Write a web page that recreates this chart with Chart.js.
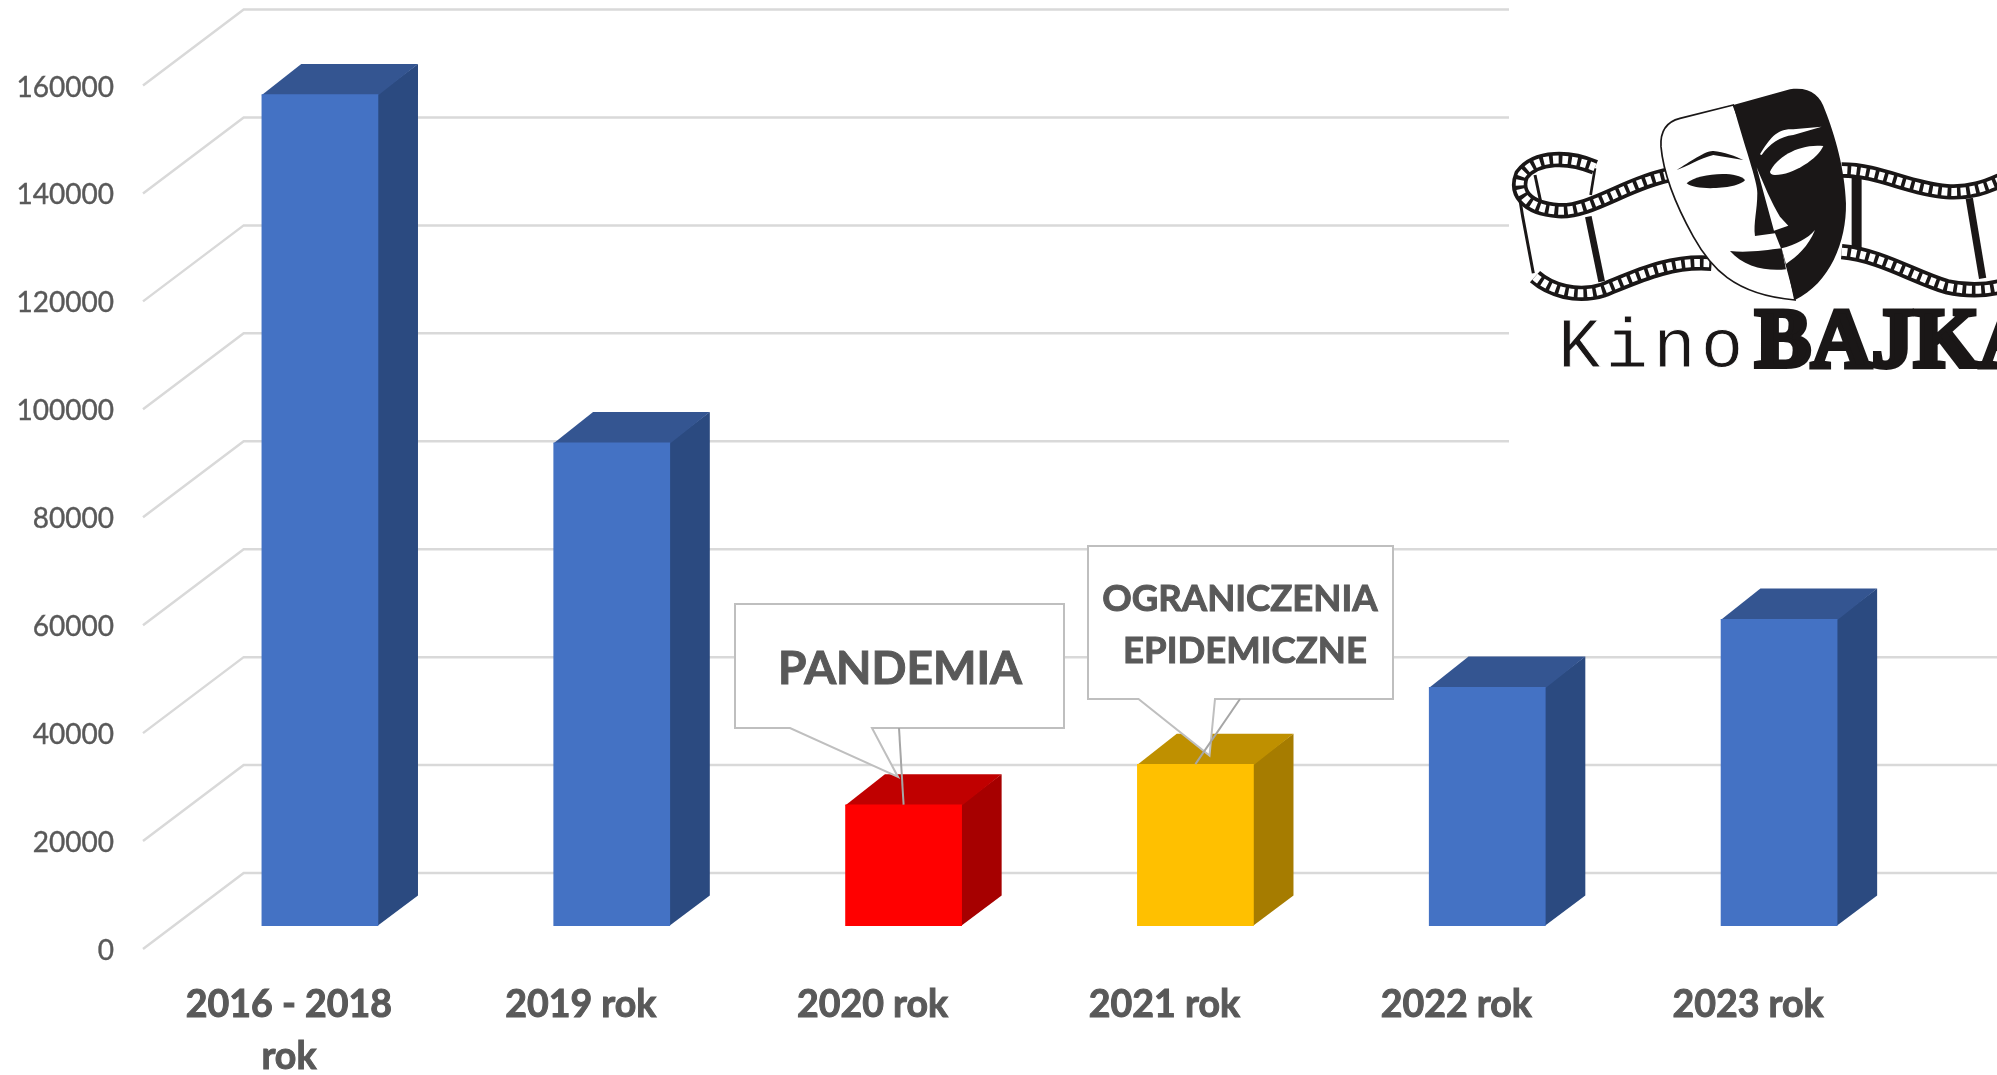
<!DOCTYPE html>
<html>
<head>
<meta charset="utf-8">
<title>Kino Bajka</title>
<script src="https://cdn.jsdelivr.net/npm/chart.js@4/dist/chart.umd.min.js"></script>
<style>
  html, body { margin: 0; padding: 0; background: #fff; overflow: hidden; }
  #wrap { position: relative; width: 1997px; height: 1075px; }
  #logo { position: absolute; left: 1509px; top: 0; width: 488px; height: 500px; background: #fff; }
</style>
</head>
<body>
<div id="wrap">
  <canvas id="chart" width="1997" height="1075"></canvas>
  <!-- logo, sits on a white box that hides the grid lines behind it -->
  <svg id="logo" viewBox="1509 0 488 500" xmlns="http://www.w3.org/2000/svg">
    <g transform="translate(1480 60) scale(0.3333)">
      <g fill="none" stroke="#1a1717">
        <path stroke-width="9" d="M108,345 L128,470 L160,640"/>
        <path stroke-width="20" d="M325,470 L365,665"/>
        <path stroke-width="9" d="M165,345 L182,425"/>
        <path stroke-width="8" d="M345,325 L332,405"/>
        <path stroke-width="30" d="M1130,345 L1130,570"/>
        <path stroke-width="22" d="M1468,415 L1508,655"/>
      </g>
      <g fill="none" stroke="#1a1717" stroke-width="46">
        <path d="M345,322 C270,290 170,285 125,345 C105,395 135,445 235,452 C330,458 440,370 565,345"/>
        <path d="M165,650 C210,690 290,715 370,690 C470,650 570,600 695,610"/>
        <path d="M1085,330 C1200,330 1280,385 1400,395 C1470,400 1520,380 1560,362"/>
        <path d="M1085,575 C1200,585 1300,650 1400,680 C1470,695 1520,690 1560,680"/>
      </g>
      <g fill="none" stroke="#fff" stroke-width="24" stroke-dasharray="17 11">
        <path d="M345,322 C270,290 170,285 125,345 C105,395 135,445 235,452 C330,458 440,370 565,345"/>
        <path d="M165,650 C210,690 290,715 370,690 C470,650 570,600 695,610"/>
        <path d="M1085,330 C1200,330 1280,385 1400,395 C1470,400 1520,380 1560,362"/>
        <path d="M1085,575 C1200,585 1300,650 1400,680 C1470,695 1520,690 1560,680"/>
      </g>
      <path fill="#fff" stroke="#1a1717" stroke-width="5" d="M760,135 L600,175 C560,185 540,210 543,260 C550,340 590,440 640,530 C690,620 760,705 945,720 L900,500 Z"/>
      <path fill="#1a1717" d="M760,135 L930,88 C990,80 1020,105 1035,150 C1065,225 1095,330 1098,430 C1100,545 1050,670 945,720 L905,570 L885,520 L825,528 C820,490 832,450 832,400 C835,370 790,250 760,135 Z"/>
      <path fill="#fff" d="M830,322 L882,512 L925,497 L900,470 C875,430 850,370 830,322 Z"/>
      <path fill="#fff" d="M870,335 C890,290 960,250 1030,258 C1015,295 940,345 885,345 C875,345 870,340 870,335 Z"/>
      <path fill="#fff" d="M840,283 C870,235 890,205 940,208 L1025,200 L940,225 C900,230 870,250 845,285 Z"/>
      <path fill="#1a1717" d="M750,573 C800,580 860,570 905,565 L918,628 C860,635 790,620 750,573 Z"/>
      <path fill="#fff" d="M905,565 C945,555 985,535 1005,510 C985,560 950,590 918,612 Z"/>
      <path fill="#1a1717" d="M620,370 C650,340 770,330 795,360 C780,385 650,395 620,370 Z"/>
      <path fill="#1a1717" d="M590,330 C630,305 680,270 700,273 C730,275 770,290 790,300 L700,285 C660,295 620,320 590,330 Z"/>
    </g>
    <text x="1558" y="367" font-family="Liberation Mono" font-size="71" letter-spacing="5" fill="#1a1717" stroke="#fff" stroke-width="0.8">Kino</text>
    <text x="1755" y="367" font-family="Liberation Serif" font-weight="bold" font-size="84" fill="#1a1717" stroke="#1a1717" stroke-width="5">BAJKA</text>
  </svg>
</div>

<script>
/* ---------- DATA ---------- */
const categories = [['2016 - 2018', 'rok'], '2019 rok', '2020 rok', '2021 rok', '2022 rok', '2023 rok'];
const visitors = [154100, 89600, 22500, 30000, 44300, 56900];
const yMax = 160000;
const yStep = 20000;

/* ---------- COLOURS ---------- */
const frontColors = ['#4472C4', '#4472C4', '#FF0000', '#FFC000', '#4472C4', '#4472C4'];
const sideColors = ['#2B4A80', '#2B4A80', '#A60000', '#A67C00', '#2B4A80', '#2B4A80'];
const topColors = ['#345591', '#345591', '#C00000', '#BF9000', '#345591', '#345591'];
const gridColor = '#D9D9D9';
const textColor = '#595959';
const fontName = 'Lato, "Open Sans", sans-serif';

/* ---------- 3D LOOK ---------- */
const backWall = { dx: 100.7, dy: -76 };   // front axis to back wall
const barShift = { dx: 31, dy: -23 };      // bars stand a little behind the front axis
const barDepth = { dx: 39.7, dy: -30.4 };

/* ---------- CALLOUTS ---------- */
const callouts = [
  {
    bar: 2,
    box: [735, 604, 329, 124],
    tail: [[790, 728], [898, 777], [872, 728]],
    leaderFrom: [899, 728],
    lines: [{ text: 'PANDEMIA', x: 900, y: 669, size: 46 }]
  },
  {
    bar: 3,
    box: [1088, 546, 305, 153],
    tail: [[1138.5, 699], [1209.5, 755.5], [1215, 699]],
    leaderFrom: [1240, 699],
    lines: [
      { text: 'OGRANICZENIA', x: 1240, y: 599, size: 36.5 },
      { text: 'EPIDEMICZNE', x: 1245, y: 651, size: 36.5 }
    ]
  }
];

function poly(ctx, pts, fill) {
  ctx.beginPath();
  pts.forEach((p, i) => i ? ctx.lineTo(p[0], p[1]) : ctx.moveTo(p[0], p[1]));
  ctx.closePath();
  ctx.fillStyle = fill;
  ctx.fill();
}

const depthPlugin = {
  id: 'depth',
  afterLayout(chart) {
    // the y labels sit a touch lower than the middle of their tick
    chart.scales.y.getLabelItems(chart.chartArea).forEach(item => {
      item.options.translation[1] += 2;
    });
  },
  beforeDatasetsDraw(chart) {
    const { ctx, chartArea, scales: { y } } = chart;

    /* grid lines: a slanted piece on the floor side, then along the back wall */
    ctx.save();
    ctx.strokeStyle = gridColor;
    ctx.lineWidth = 2.5;
    y.ticks.forEach(t => {
      const py = y.getPixelForValue(t.value);
      ctx.beginPath();
      ctx.moveTo(chartArea.left, py);
      ctx.lineTo(chartArea.left + backWall.dx, py + backWall.dy);
      ctx.lineTo(chart.width, py + backWall.dy);
      ctx.stroke();
    });
    ctx.restore();

    /* side and top faces come from the same bar elements */
    ctx.save();
    ctx.translate(barShift.dx, barShift.dy);
    chart.getDatasetMeta(0).data.forEach((bar, i) => {
      const l = bar.x - bar.width / 2;
      const r = bar.x + bar.width / 2;
      const d = barDepth;
      // start one pixel under the front face so no white seam shows
      poly(ctx, [[r - 1, bar.y], [r + d.dx, bar.y + d.dy], [r + d.dx, bar.base + d.dy], [r - 1, bar.base]], sideColors[i]);
      poly(ctx, [[l, bar.y + 1], [l + d.dx, bar.y + d.dy], [r + d.dx, bar.y + d.dy], [r, bar.y + 1]], topColors[i]);
    });
    ctx.restore();

    /* front faces are the real bars, shifted back */
    ctx.save();
    ctx.translate(barShift.dx, barShift.dy);
  },
  afterDatasetsDraw(chart) {
    const ctx = chart.ctx;
    ctx.restore();

    const bars = chart.getDatasetMeta(0).data;
    callouts.forEach(c => {
      const bar = bars[c.bar];

      // box with its tail
      const [bx, by, bw, bh] = c.box;
      ctx.save();
      ctx.beginPath();
      ctx.moveTo(bx, by);
      ctx.lineTo(bx + bw, by);
      ctx.lineTo(bx + bw, by + bh);
      ctx.lineTo(c.tail[2][0], c.tail[2][1]);
      ctx.lineTo(c.tail[1][0], c.tail[1][1]);
      ctx.lineTo(c.tail[0][0], c.tail[0][1]);
      ctx.lineTo(bx, by + bh);
      ctx.closePath();
      ctx.fillStyle = '#fff';
      ctx.fill();
      ctx.strokeStyle = '#BFBFBF';
      ctx.lineWidth = 2;
      ctx.stroke();

      // leader line down to the middle of the bar top
      ctx.strokeStyle = '#A6A6A6';
      ctx.beginPath();
      ctx.moveTo(c.leaderFrom[0], c.leaderFrom[1]);
      ctx.lineTo(bar.x + barShift.dx, bar.y + barShift.dy);
      ctx.stroke();

      ctx.fillStyle = textColor;
      ctx.strokeStyle = textColor;
      ctx.lineWidth = 1;
      ctx.textAlign = 'center';
      ctx.textBaseline = 'middle';
      c.lines.forEach(line => {
        ctx.font = `bold ${line.size}px ${fontName}`;
        ctx.fillText(line.text, line.x, line.y);
        ctx.strokeText(line.text, line.x, line.y);
      });
      ctx.restore();
    });
  }
};

/* ---------- CHART ---------- */
new Chart(document.getElementById('chart'), {
  type: 'bar',
  data: {
    labels: categories,
    datasets: [{
      data: visitors,
      backgroundColor: frontColors,
      borderWidth: 0,
      categoryPercentage: 1,
      barPercentage: 0.4,
      clip: false
    }]
  },
  plugins: [depthPlugin],
  options: {
    responsive: false,
    animation: false,
    layout: { padding: { top: 85.5, right: 103, bottom: 0, left: 0 } },
    plugins: {
      legend: { display: false },
      tooltip: { enabled: false }
    },
    scales: {
      x: {
        grid: { display: false },
        border: { display: false },
        afterFit: s => { s.height = 126; },
        ticks: {
          color: textColor,
          font: { family: fontName, size: 37.5, weight: 'bold', lineHeight: 1.39 },
          textStrokeColor: textColor,
          textStrokeWidth: 1,
          autoSkip: false,
          maxRotation: 0,
          padding: 22
        }
      },
      y: {
        min: 0,
        max: yMax,
        grid: { display: false },
        border: { display: false },
        afterFit: s => { s.width = 143; },
        ticks: {
          stepSize: yStep,
          color: textColor,
          font: { family: fontName, size: 28 },
          textStrokeColor: textColor,
          textStrokeWidth: 0.4,
          padding: 21,
          callback: v => String(v)
        }
      }
    }
  }
});
</script>
</body>
</html>
